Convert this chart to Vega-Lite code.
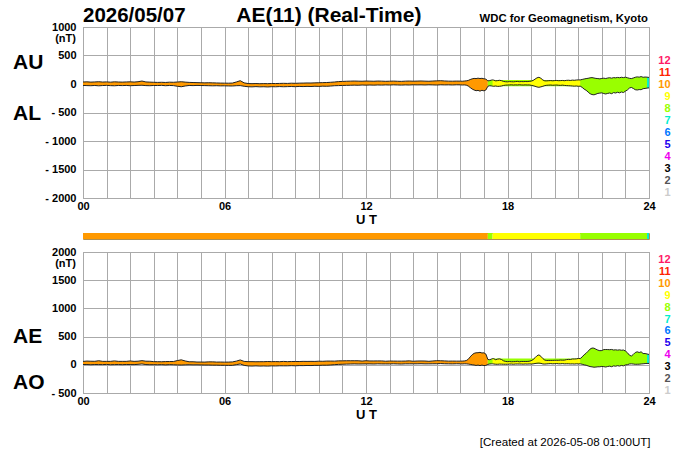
{
  "$schema": "https://vega.github.io/schema/vega-lite/v6.json",
  "background": "white",
  "padding": {"left": 12, "top": 4, "right": 0, "bottom": 0},
  "config": {
    "font": "Liberation Sans",
    "view": {"stroke": "#999999"},
    "axis": {"grid": true, "gridColor": "#aaaaaa", "gridWidth": 1, "ticks": false, "domain": false, "labelFontSize": 11, "labelFontWeight": "bold", "labelColor": "#000000", "titleFontSize": 13, "titleFontWeight": "bold", "titleColor": "#000000", "labelOverlap": false},
    "axisX": {"labelPadding": 2, "titlePadding": 2, "labelFlush": false},
    "axisY": {"labelPadding": 7}
  },
  "datasets": {
    "ae": [
      {"m":0,"au":35,"al":-25,"ae":60,"ao":5,"n":10},
      {"m":10,"au":38,"al":-28,"ae":66,"ao":5,"n":10},
      {"m":20,"au":33,"al":-30,"ae":63,"ao":1.5,"n":10},
      {"m":30,"au":36,"al":-26,"ae":62,"ao":5,"n":10},
      {"m":40,"au":40,"al":-32,"ae":72,"ao":4,"n":10},
      {"m":50,"au":34,"al":-27,"ae":61,"ao":3.5,"n":10},
      {"m":60,"au":37,"al":-24,"ae":61,"ao":6.5,"n":10},
      {"m":70,"au":32,"al":-29,"ae":61,"ao":1.5,"n":10},
      {"m":80,"au":38,"al":-31,"ae":69,"ao":3.5,"n":10},
      {"m":90,"au":35,"al":-26,"ae":61,"ao":4.5,"n":10},
      {"m":100,"au":33,"al":-28,"ae":61,"ao":2.5,"n":10},
      {"m":110,"au":36,"al":-25,"ae":61,"ao":5.5,"n":10},
      {"m":120,"au":38,"al":-30,"ae":68,"ao":4,"n":10},
      {"m":130,"au":34,"al":-27,"ae":61,"ao":3.5,"n":10},
      {"m":140,"au":40,"al":-24,"ae":64,"ao":8,"n":10},
      {"m":150,"au":52,"al":-22,"ae":74,"ao":15,"n":10},
      {"m":160,"au":36,"al":-28,"ae":64,"ao":4,"n":10},
      {"m":170,"au":33,"al":-30,"ae":63,"ao":1.5,"n":10},
      {"m":180,"au":30,"al":-26,"ae":56,"ao":2,"n":10},
      {"m":190,"au":28,"al":-27,"ae":55,"ao":0.5,"n":10},
      {"m":200,"au":30,"al":-24,"ae":54,"ao":3,"n":10},
      {"m":210,"au":27,"al":-30,"ae":57,"ao":-1.5,"n":10},
      {"m":220,"au":32,"al":-26,"ae":58,"ao":3,"n":10},
      {"m":230,"au":30,"al":-28,"ae":58,"ao":1,"n":10},
      {"m":240,"au":35,"al":-40,"ae":75,"ao":-2.5,"n":10},
      {"m":250,"au":40,"al":-48,"ae":88,"ao":-4,"n":10},
      {"m":260,"au":33,"al":-35,"ae":68,"ao":-1,"n":10},
      {"m":270,"au":28,"al":-26,"ae":54,"ao":1,"n":10},
      {"m":280,"au":26,"al":-28,"ae":54,"ao":-1,"n":10},
      {"m":290,"au":24,"al":-25,"ae":49,"ao":-0.5,"n":10},
      {"m":300,"au":22,"al":-27,"ae":49,"ao":-2.5,"n":10},
      {"m":310,"au":20,"al":-28,"ae":48,"ao":-4,"n":10},
      {"m":320,"au":22,"al":-30,"ae":52,"ao":-4,"n":10},
      {"m":330,"au":20,"al":-32,"ae":52,"ao":-6,"n":10},
      {"m":340,"au":18,"al":-30,"ae":48,"ao":-6,"n":10},
      {"m":350,"au":16,"al":-33,"ae":49,"ao":-8.5,"n":10},
      {"m":360,"au":15,"al":-32,"ae":47,"ao":-8.5,"n":10},
      {"m":370,"au":14,"al":-34,"ae":48,"ao":-10,"n":10},
      {"m":380,"au":16,"al":-35,"ae":51,"ao":-9.5,"n":10},
      {"m":390,"au":35,"al":-30,"ae":65,"ao":2.5,"n":10},
      {"m":400,"au":58,"al":-28,"ae":86,"ao":15,"n":10},
      {"m":410,"au":20,"al":-40,"ae":60,"ao":-10,"n":10},
      {"m":420,"au":8,"al":-48,"ae":56,"ao":-20,"n":10},
      {"m":430,"au":6,"al":-50,"ae":56,"ao":-22,"n":10},
      {"m":440,"au":8,"al":-46,"ae":54,"ao":-19,"n":10},
      {"m":450,"au":5,"al":-50,"ae":55,"ao":-22.5,"n":10},
      {"m":460,"au":7,"al":-48,"ae":55,"ao":-20.5,"n":10},
      {"m":470,"au":6,"al":-52,"ae":58,"ao":-23,"n":10},
      {"m":480,"au":9,"al":-47,"ae":56,"ao":-19,"n":10},
      {"m":490,"au":8,"al":-49,"ae":57,"ao":-20.5,"n":10},
      {"m":500,"au":10,"al":-45,"ae":55,"ao":-17.5,"n":10},
      {"m":510,"au":12,"al":-48,"ae":60,"ao":-18,"n":10},
      {"m":520,"au":10,"al":-46,"ae":56,"ao":-18,"n":10},
      {"m":530,"au":14,"al":-44,"ae":58,"ao":-15,"n":10},
      {"m":540,"au":12,"al":-47,"ae":59,"ao":-17.5,"n":10},
      {"m":550,"au":15,"al":-43,"ae":58,"ao":-14,"n":10},
      {"m":560,"au":16,"al":-45,"ae":61,"ao":-14.5,"n":10},
      {"m":570,"au":18,"al":-42,"ae":60,"ao":-12,"n":10},
      {"m":580,"au":17,"al":-44,"ae":61,"ao":-13.5,"n":10},
      {"m":590,"au":20,"al":-40,"ae":60,"ao":-10,"n":10},
      {"m":600,"au":22,"al":-42,"ae":64,"ao":-10,"n":10},
      {"m":610,"au":24,"al":-38,"ae":62,"ao":-7,"n":10},
      {"m":620,"au":26,"al":-40,"ae":66,"ao":-7,"n":10},
      {"m":630,"au":30,"al":-36,"ae":66,"ao":-3,"n":10},
      {"m":640,"au":35,"al":-30,"ae":65,"ao":2.5,"n":10},
      {"m":650,"au":42,"al":-28,"ae":70,"ao":7,"n":10},
      {"m":660,"au":45,"al":-25,"ae":70,"ao":10,"n":10},
      {"m":670,"au":48,"al":-24,"ae":72,"ao":12,"n":10},
      {"m":680,"au":50,"al":-22,"ae":72,"ao":14,"n":10},
      {"m":690,"au":52,"al":-20,"ae":72,"ao":16,"n":10},
      {"m":700,"au":50,"al":-22,"ae":72,"ao":14,"n":10},
      {"m":710,"au":48,"al":-18,"ae":66,"ao":15,"n":10},
      {"m":720,"au":52,"al":-20,"ae":72,"ao":16,"n":10},
      {"m":730,"au":50,"al":-18,"ae":68,"ao":16,"n":10},
      {"m":740,"au":48,"al":-20,"ae":68,"ao":14,"n":10},
      {"m":750,"au":52,"al":-17,"ae":69,"ao":17.5,"n":10},
      {"m":760,"au":50,"al":-19,"ae":69,"ao":15.5,"n":10},
      {"m":770,"au":47,"al":-16,"ae":63,"ao":15.5,"n":10},
      {"m":780,"au":49,"al":-18,"ae":67,"ao":15.5,"n":10},
      {"m":790,"au":51,"al":-15,"ae":66,"ao":18,"n":10},
      {"m":800,"au":48,"al":-17,"ae":65,"ao":15.5,"n":10},
      {"m":810,"au":46,"al":-19,"ae":65,"ao":13.5,"n":10},
      {"m":820,"au":50,"al":-16,"ae":66,"ao":17,"n":10},
      {"m":830,"au":52,"al":-18,"ae":70,"ao":17,"n":10},
      {"m":840,"au":49,"al":-14,"ae":63,"ao":17.5,"n":10},
      {"m":850,"au":51,"al":-16,"ae":67,"ao":17.5,"n":10},
      {"m":860,"au":53,"al":-15,"ae":68,"ao":19,"n":10},
      {"m":870,"au":50,"al":-17,"ae":67,"ao":16.5,"n":10},
      {"m":880,"au":48,"al":-14,"ae":62,"ao":17,"n":10},
      {"m":890,"au":52,"al":-16,"ae":68,"ao":18,"n":10},
      {"m":900,"au":55,"al":-18,"ae":73,"ao":18.5,"n":10},
      {"m":910,"au":58,"al":-14,"ae":72,"ao":22,"n":10},
      {"m":920,"au":53,"al":-16,"ae":69,"ao":18.5,"n":10},
      {"m":930,"au":50,"al":-15,"ae":65,"ao":17.5,"n":10},
      {"m":940,"au":49,"al":-17,"ae":66,"ao":16,"n":10},
      {"m":950,"au":51,"al":-14,"ae":65,"ao":18.5,"n":10},
      {"m":960,"au":50,"al":-15,"ae":65,"ao":17.5,"n":10},
      {"m":965,"au":48,"al":-18,"ae":66,"ao":15,"n":10},
      {"m":970,"au":52,"al":-16,"ae":68,"ao":18,"n":10},
      {"m":975,"au":55,"al":-20,"ae":75,"ao":17.5,"n":10},
      {"m":980,"au":62,"al":-35,"ae":97,"ao":13.5,"n":10},
      {"m":985,"au":78,"al":-62,"ae":140,"ao":8,"n":10},
      {"m":990,"au":90,"al":-88,"ae":178,"ao":1,"n":10},
      {"m":995,"au":98,"al":-105,"ae":203,"ao":-3.5,"n":10},
      {"m":1000,"au":95,"al":-118,"ae":213,"ao":-11.5,"n":10},
      {"m":1005,"au":102,"al":-112,"ae":214,"ao":-5,"n":10},
      {"m":1010,"au":96,"al":-125,"ae":221,"ao":-14.5,"n":10},
      {"m":1015,"au":100,"al":-110,"ae":210,"ao":-5,"n":10},
      {"m":1020,"au":92,"al":-120,"ae":212,"ao":-14,"n":10},
      {"m":1025,"au":85,"al":-105,"ae":190,"ao":-10,"n":10},
      {"m":1030,"au":55,"al":-40,"ae":95,"ao":7.5,"n":10},
      {"m":1030,"au":55,"al":-40,"ae":95,"ao":7.5,"n":8},
      {"m":1035,"au":60,"al":-30,"ae":90,"ao":15,"n":8},
      {"m":1040,"au":70,"al":-35,"ae":105,"ao":17.5,"n":8},
      {"m":1042,"au":72,"al":-38,"ae":110,"ao":17,"n":8},
      {"m":1042,"au":72,"al":-38,"ae":110,"ao":17,"n":9},
      {"m":1045,"au":68,"al":-40,"ae":108,"ao":14,"n":9},
      {"m":1050,"au":55,"al":-35,"ae":90,"ao":10,"n":9},
      {"m":1055,"au":60,"al":-42,"ae":102,"ao":9,"n":9},
      {"m":1060,"au":65,"al":-40,"ae":105,"ao":12.5,"n":9},
      {"m":1065,"au":58,"al":-35,"ae":93,"ao":11.5,"n":9},
      {"m":1070,"au":45,"al":-25,"ae":70,"ao":10,"n":9},
      {"m":1075,"au":40,"al":-20,"ae":60,"ao":10,"n":9},
      {"m":1080,"au":38,"al":-18,"ae":56,"ao":10,"n":9},
      {"m":1085,"au":42,"al":-16,"ae":58,"ao":13,"n":9},
      {"m":1090,"au":40,"al":-14,"ae":54,"ao":13,"n":9},
      {"m":1095,"au":38,"al":-18,"ae":56,"ao":10,"n":9},
      {"m":1100,"au":42,"al":-15,"ae":57,"ao":13.5,"n":9},
      {"m":1105,"au":45,"al":-17,"ae":62,"ao":14,"n":9},
      {"m":1110,"au":40,"al":-13,"ae":53,"ao":13.5,"n":9},
      {"m":1115,"au":43,"al":-16,"ae":59,"ao":13.5,"n":9},
      {"m":1120,"au":41,"al":-18,"ae":59,"ao":11.5,"n":9},
      {"m":1125,"au":44,"al":-15,"ae":59,"ao":14.5,"n":9},
      {"m":1130,"au":42,"al":-17,"ae":59,"ao":12.5,"n":9},
      {"m":1135,"au":46,"al":-16,"ae":62,"ao":15,"n":9},
      {"m":1140,"au":50,"al":-22,"ae":72,"ao":14,"n":9},
      {"m":1145,"au":62,"al":-30,"ae":92,"ao":16,"n":9},
      {"m":1150,"au":85,"al":-40,"ae":125,"ao":22.5,"n":9},
      {"m":1155,"au":108,"al":-52,"ae":160,"ao":28,"n":9},
      {"m":1160,"au":118,"al":-58,"ae":176,"ao":30,"n":9},
      {"m":1165,"au":100,"al":-50,"ae":150,"ao":25,"n":9},
      {"m":1170,"au":70,"al":-40,"ae":110,"ao":15,"n":9},
      {"m":1175,"au":55,"al":-28,"ae":83,"ao":13.5,"n":9},
      {"m":1180,"au":55,"al":-22,"ae":77,"ao":16.5,"n":9},
      {"m":1185,"au":58,"al":-20,"ae":78,"ao":19,"n":9},
      {"m":1190,"au":60,"al":-18,"ae":78,"ao":21,"n":9},
      {"m":1195,"au":56,"al":-22,"ae":78,"ao":17,"n":9},
      {"m":1200,"au":60,"al":-20,"ae":80,"ao":20,"n":9},
      {"m":1205,"au":62,"al":-18,"ae":80,"ao":22,"n":9},
      {"m":1210,"au":58,"al":-22,"ae":80,"ao":18,"n":9},
      {"m":1215,"au":60,"al":-24,"ae":84,"ao":18,"n":9},
      {"m":1220,"au":62,"al":-20,"ae":82,"ao":21,"n":9},
      {"m":1225,"au":58,"al":-25,"ae":83,"ao":16.5,"n":9},
      {"m":1230,"au":64,"al":-28,"ae":92,"ao":18,"n":9},
      {"m":1235,"au":66,"al":-30,"ae":96,"ao":18,"n":9},
      {"m":1240,"au":62,"al":-32,"ae":94,"ao":15,"n":9},
      {"m":1245,"au":68,"al":-35,"ae":103,"ao":16.5,"n":9},
      {"m":1250,"au":65,"al":-38,"ae":103,"ao":13.5,"n":9},
      {"m":1255,"au":70,"al":-35,"ae":105,"ao":17.5,"n":9},
      {"m":1260,"au":72,"al":-40,"ae":112,"ao":16,"n":9},
      {"m":1265,"au":72,"al":-38,"ae":110,"ao":17,"n":9},
      {"m":1265,"au":72,"al":-38,"ae":110,"ao":17,"n":8},
      {"m":1270,"au":80,"al":-60,"ae":140,"ao":10,"n":8},
      {"m":1275,"au":88,"al":-90,"ae":178,"ao":-1,"n":8},
      {"m":1280,"au":95,"al":-110,"ae":205,"ao":-7.5,"n":8},
      {"m":1285,"au":100,"al":-140,"ae":240,"ao":-20,"n":8},
      {"m":1290,"au":108,"al":-170,"ae":278,"ao":-31,"n":8},
      {"m":1295,"au":112,"al":-185,"ae":297,"ao":-36.5,"n":8},
      {"m":1300,"au":105,"al":-190,"ae":295,"ao":-42.5,"n":8},
      {"m":1305,"au":98,"al":-178,"ae":276,"ao":-40,"n":8},
      {"m":1310,"au":95,"al":-165,"ae":260,"ao":-35,"n":8},
      {"m":1315,"au":90,"al":-160,"ae":250,"ao":-35,"n":8},
      {"m":1320,"au":98,"al":-155,"ae":253,"ao":-28.5,"n":8},
      {"m":1325,"au":102,"al":-168,"ae":270,"ao":-33,"n":8},
      {"m":1330,"au":96,"al":-175,"ae":271,"ao":-39.5,"n":8},
      {"m":1335,"au":105,"al":-165,"ae":270,"ao":-30,"n":8},
      {"m":1340,"au":110,"al":-158,"ae":268,"ao":-24,"n":8},
      {"m":1345,"au":102,"al":-170,"ae":272,"ao":-34,"n":8},
      {"m":1350,"au":112,"al":-150,"ae":262,"ao":-19,"n":8},
      {"m":1355,"au":108,"al":-158,"ae":266,"ao":-25,"n":8},
      {"m":1360,"au":115,"al":-145,"ae":260,"ao":-15,"n":8},
      {"m":1365,"au":110,"al":-155,"ae":265,"ao":-22.5,"n":8},
      {"m":1370,"au":118,"al":-140,"ae":258,"ao":-11,"n":8},
      {"m":1375,"au":112,"al":-150,"ae":262,"ao":-19,"n":8},
      {"m":1380,"au":120,"al":-125,"ae":245,"ao":-2.5,"n":8},
      {"m":1385,"au":110,"al":-105,"ae":215,"ao":2.5,"n":8},
      {"m":1390,"au":100,"al":-72,"ae":172,"ao":14,"n":8},
      {"m":1395,"au":95,"al":-60,"ae":155,"ao":17.5,"n":8},
      {"m":1400,"au":105,"al":-78,"ae":183,"ao":13.5,"n":8},
      {"m":1405,"au":118,"al":-100,"ae":218,"ao":9,"n":8},
      {"m":1410,"au":125,"al":-105,"ae":230,"ao":10,"n":8},
      {"m":1415,"au":120,"al":-98,"ae":218,"ao":11,"n":8},
      {"m":1420,"au":130,"al":-100,"ae":230,"ao":15,"n":8},
      {"m":1425,"au":118,"al":-82,"ae":200,"ao":18,"n":8},
      {"m":1430,"au":122,"al":-78,"ae":200,"ao":22,"n":8},
      {"m":1435,"au":120,"al":-72,"ae":192,"ao":24,"n":8},
      {"m":1435,"au":120,"al":-72,"ae":192,"ao":24,"n":7},
      {"m":1440,"au":115,"al":-68,"ae":183,"ao":23.5,"n":7}
    ],
    "bar": [
      {"s":0,"e":1030,"n":10},
      {"s":1030,"e":1042,"n":8},
      {"s":1042,"e":1265,"n":9},
      {"s":1265,"e":1435,"n":8},
      {"s":1435,"e":1440,"n":7}
    ],
    "nums": [
      {"n":12},{"n":11},{"n":10},{"n":9},{"n":8},{"n":7},
      {"n":6},{"n":5},{"n":4},{"n":3},{"n":2},{"n":1}
    ]
  },
  "spacing": 5,
  "vconcat": [
    {
      "width": 566,
      "height": 171,
      "layer": [
        {
          "layer": [
            {
              "data": {"name": "ae"},
              "layer": [
                {
                  "mark": {"type": "area"},
                  "encoding": {
                    "x": {"field": "m", "type": "quantitative", "title": "U T", "scale": {"domain": [0, 1440], "nice": false, "zero": false},
                      "axis": {"values": [0,60,120,180,240,300,360,420,480,540,600,660,720,780,840,900,960,1020,1080,1140,1200,1260,1320,1380,1440], "labelOverlap": false, "labelExpr": "datum.value % 360 == 0 ? (datum.value < 600 ? '0' + datum.value / 60 : '' + datum.value / 60) : ''"}},
                    "y": {"field": "au", "type": "quantitative", "title": null, "stack": null, "scale": {"domain": [-2000, 1000], "nice": false, "zero": false},
                      "axis": {"values": [-2000,-1500,-1000,-500,0,500,1000], "labelOverlap": false, "labelExpr": "datum.value < 0 ? '- ' + (-datum.value) : '' + datum.value"}},
                    "y2": {"field": "al"},
                    "color": {"field": "n", "type": "ordinal", "legend": null,
                      "scale": {"domain": [1,2,3,4,5,6,7,8,9,10,11,12], "range": ["#cccccc","#555555","#000000","#ee00ee","#2200ee","#0077ff","#00eecc","#99ff00","#ffff00","#ff9900","#ff2200","#ff1a66"]}}
                  }
                },
                {
                  "mark": {"type": "line", "color": "#222222", "strokeWidth": 1},
                  "encoding": {
                    "x": {"field": "m", "type": "quantitative", "title": "U T",
                      "axis": {"values": [0,60,120,180,240,300,360,420,480,540,600,660,720,780,840,900,960,1020,1080,1140,1200,1260,1320,1380,1440], "labelOverlap": false, "labelExpr": "datum.value % 360 == 0 ? (datum.value < 600 ? '0' + datum.value / 60 : '' + datum.value / 60) : ''"}},
                    "y": {"field": "au", "type": "quantitative", "title": null,
                      "axis": {"values": [-2000,-1500,-1000,-500,0,500,1000], "labelOverlap": false, "labelExpr": "datum.value < 0 ? '- ' + (-datum.value) : '' + datum.value"}}
                  }
                },
                {
                  "mark": {"type": "line", "color": "#222222", "strokeWidth": 1},
                  "encoding": {
                    "x": {"field": "m", "type": "quantitative", "title": "U T",
                      "axis": {"values": [0,60,120,180,240,300,360,420,480,540,600,660,720,780,840,900,960,1020,1080,1140,1200,1260,1320,1380,1440], "labelOverlap": false, "labelExpr": "datum.value % 360 == 0 ? (datum.value < 600 ? '0' + datum.value / 60 : '' + datum.value / 60) : ''"}},
                    "y": {"field": "al", "type": "quantitative", "title": null,
                      "axis": {"values": [-2000,-1500,-1000,-500,0,500,1000], "labelOverlap": false, "labelExpr": "datum.value < 0 ? '- ' + (-datum.value) : '' + datum.value"}}
                  }
                }
              ]
            },
            {
              "data": {"values": [{}]},
              "mark": {"type": "text", "text": "2026/05/07", "align": "left", "baseline": "alphabetic", "fontSize": 20.5, "fontWeight": "bold"},
              "encoding": {
                "x": {"datum": 0, "type": "quantitative", "title": "U T",
                  "axis": {"values": [0,60,120,180,240,300,360,420,480,540,600,660,720,780,840,900,960,1020,1080,1140,1200,1260,1320,1380,1440], "labelOverlap": false, "labelExpr": "datum.value % 360 == 0 ? (datum.value < 600 ? '0' + datum.value / 60 : '' + datum.value / 60) : ''"}},
                "y": {"datum": 1088, "type": "quantitative", "title": null,
                  "axis": {"values": [-2000,-1500,-1000,-500,0,500,1000], "labelOverlap": false, "labelExpr": "datum.value < 0 ? '- ' + (-datum.value) : '' + datum.value"}}
              }
            },
            {
              "data": {"values": [{}]},
              "mark": {"type": "text", "text": "AE(11) (Real-Time)", "align": "left", "baseline": "alphabetic", "fontSize": 21, "fontWeight": "bold"},
              "encoding": {
                "x": {"datum": 390, "type": "quantitative", "title": "U T",
                  "axis": {"values": [0,60,120,180,240,300,360,420,480,540,600,660,720,780,840,900,960,1020,1080,1140,1200,1260,1320,1380,1440], "labelOverlap": false, "labelExpr": "datum.value % 360 == 0 ? (datum.value < 600 ? '0' + datum.value / 60 : '' + datum.value / 60) : ''"}},
                "y": {"datum": 1088, "type": "quantitative", "title": null,
                  "axis": {"values": [-2000,-1500,-1000,-500,0,500,1000], "labelOverlap": false, "labelExpr": "datum.value < 0 ? '- ' + (-datum.value) : '' + datum.value"}}
              }
            },
            {
              "data": {"values": [{}]},
              "mark": {"type": "text", "text": "WDC for Geomagnetism, Kyoto", "align": "right", "baseline": "alphabetic", "fontSize": 11.3, "fontWeight": "bold"},
              "encoding": {
                "x": {"datum": 1437, "type": "quantitative", "title": "U T",
                  "axis": {"values": [0,60,120,180,240,300,360,420,480,540,600,660,720,780,840,900,960,1020,1080,1140,1200,1260,1320,1380,1440], "labelOverlap": false, "labelExpr": "datum.value % 360 == 0 ? (datum.value < 600 ? '0' + datum.value / 60 : '' + datum.value / 60) : ''"}},
                "y": {"datum": 1082, "type": "quantitative", "title": null,
                  "axis": {"values": [-2000,-1500,-1000,-500,0,500,1000], "labelOverlap": false, "labelExpr": "datum.value < 0 ? '- ' + (-datum.value) : '' + datum.value"}}
              }
            },
            {
              "data": {"values": [{}]},
              "mark": {"type": "text", "text": "(nT)", "align": "right", "baseline": "middle", "fontSize": 11, "fontWeight": "bold"},
              "encoding": {
                "x": {"datum": -18, "type": "quantitative", "title": "U T",
                  "axis": {"values": [0,60,120,180,240,300,360,420,480,540,600,660,720,780,840,900,960,1020,1080,1140,1200,1260,1320,1380,1440], "labelOverlap": false, "labelExpr": "datum.value % 360 == 0 ? (datum.value < 600 ? '0' + datum.value / 60 : '' + datum.value / 60) : ''"}},
                "y": {"datum": 798, "type": "quantitative", "title": null,
                  "axis": {"values": [-2000,-1500,-1000,-500,0,500,1000], "labelOverlap": false, "labelExpr": "datum.value < 0 ? '- ' + (-datum.value) : '' + datum.value"}}
              }
            },
            {
              "data": {"values": [{}]},
              "mark": {"type": "text", "text": "AU", "align": "left", "baseline": "middle", "fontSize": 21, "fontWeight": "bold"},
              "encoding": {
                "x": {"datum": -178, "type": "quantitative", "title": "U T",
                  "axis": {"values": [0,60,120,180,240,300,360,420,480,540,600,660,720,780,840,900,960,1020,1080,1140,1200,1260,1320,1380,1440], "labelOverlap": false, "labelExpr": "datum.value % 360 == 0 ? (datum.value < 600 ? '0' + datum.value / 60 : '' + datum.value / 60) : ''"}},
                "y": {"datum": 377, "type": "quantitative", "title": null,
                  "axis": {"values": [-2000,-1500,-1000,-500,0,500,1000], "labelOverlap": false, "labelExpr": "datum.value < 0 ? '- ' + (-datum.value) : '' + datum.value"}}
              }
            },
            {
              "data": {"values": [{}]},
              "mark": {"type": "text", "text": "AL", "align": "left", "baseline": "middle", "fontSize": 21, "fontWeight": "bold"},
              "encoding": {
                "x": {"datum": -178, "type": "quantitative", "title": "U T",
                  "axis": {"values": [0,60,120,180,240,300,360,420,480,540,600,660,720,780,840,900,960,1020,1080,1140,1200,1260,1320,1380,1440], "labelOverlap": false, "labelExpr": "datum.value % 360 == 0 ? (datum.value < 600 ? '0' + datum.value / 60 : '' + datum.value / 60) : ''"}},
                "y": {"datum": -521, "type": "quantitative", "title": null,
                  "axis": {"values": [-2000,-1500,-1000,-500,0,500,1000], "labelOverlap": false, "labelExpr": "datum.value < 0 ? '- ' + (-datum.value) : '' + datum.value"}}
              }
            }
          ]
        },
        {
          "data": {"name": "nums"},
          "mark": {"type": "text", "align": "right", "baseline": "middle", "fontSize": 11, "fontWeight": "bold"},
          "encoding": {
            "x": {"datum": 1495, "type": "quantitative", "title": "U T",
              "axis": {"values": [0,60,120,180,240,300,360,420,480,540,600,660,720,780,840,900,960,1020,1080,1140,1200,1260,1320,1380,1440], "labelOverlap": false, "labelExpr": "datum.value % 360 == 0 ? (datum.value < 600 ? '0' + datum.value / 60 : '' + datum.value / 60) : ''"}},
            "y": {"field": "n", "type": "quantitative", "scale": {"domain": [0.61, 14.83], "nice": false, "zero": false}, "axis": null},
            "text": {"field": "n"},
            "color": {"field": "n", "type": "ordinal", "legend": null,
              "scale": {"domain": [1,2,3,4,5,6,7,8,9,10,11,12], "range": ["#cccccc","#555555","#000000","#ee00ee","#2200ee","#0077ff","#00eecc","#99ff00","#ffff00","#ff9900","#ff2200","#ff1a66"]}}
          }
        }
      ],
      "resolve": {"scale": {"y": "independent"}, "axis": {"y": "independent"}}
    },
    {
      "width": 566,
      "height": 6,
      "view": {"stroke": "#b09050"},
      "data": {"name": "bar"},
      "mark": {"type": "rect"},
      "encoding": {
        "x": {"field": "s", "type": "quantitative", "scale": {"domain": [0, 1440], "nice": false, "zero": false}, "axis": null},
        "x2": {"field": "e"},
        "color": {"field": "n", "type": "ordinal", "legend": null,
          "scale": {"domain": [1,2,3,4,5,6,7,8,9,10,11,12], "range": ["#cccccc","#555555","#000000","#ee00ee","#2200ee","#0077ff","#00eecc","#99ff00","#ffff00","#ff9900","#ff2200","#ff1a66"]}}
      }
    },
    {
      "width": 566,
      "height": 141,
      "layer": [
        {
          "layer": [
            {
              "data": {"name": "ae"},
              "layer": [
                {
                  "mark": {"type": "area"},
                  "encoding": {
                    "x": {"field": "m", "type": "quantitative", "title": "U T", "scale": {"domain": [0, 1440], "nice": false, "zero": false},
                      "axis": {"values": [0,60,120,180,240,300,360,420,480,540,600,660,720,780,840,900,960,1020,1080,1140,1200,1260,1320,1380,1440], "labelOverlap": false, "labelExpr": "datum.value % 360 == 0 ? (datum.value < 600 ? '0' + datum.value / 60 : '' + datum.value / 60) : ''"}},
                    "y": {"field": "ae", "type": "quantitative", "title": null, "stack": null, "scale": {"domain": [-500, 2000], "nice": false, "zero": false},
                      "axis": {"values": [-500,0,500,1000,1500,2000], "labelOverlap": false, "labelExpr": "datum.value < 0 ? '- ' + (-datum.value) : '' + datum.value"}},
                    "y2": {"field": "ao"},
                    "color": {"field": "n", "type": "ordinal", "legend": null,
                      "scale": {"domain": [1,2,3,4,5,6,7,8,9,10,11,12], "range": ["#cccccc","#555555","#000000","#ee00ee","#2200ee","#0077ff","#00eecc","#99ff00","#ffff00","#ff9900","#ff2200","#ff1a66"]}}
                  }
                },
                {
                  "mark": {"type": "line", "color": "#222222", "strokeWidth": 1},
                  "encoding": {
                    "x": {"field": "m", "type": "quantitative", "title": "U T",
                      "axis": {"values": [0,60,120,180,240,300,360,420,480,540,600,660,720,780,840,900,960,1020,1080,1140,1200,1260,1320,1380,1440], "labelOverlap": false, "labelExpr": "datum.value % 360 == 0 ? (datum.value < 600 ? '0' + datum.value / 60 : '' + datum.value / 60) : ''"}},
                    "y": {"field": "ae", "type": "quantitative", "title": null,
                      "axis": {"values": [-500,0,500,1000,1500,2000], "labelOverlap": false, "labelExpr": "datum.value < 0 ? '- ' + (-datum.value) : '' + datum.value"}}
                  }
                },
                {
                  "mark": {"type": "line", "color": "#222222", "strokeWidth": 1},
                  "encoding": {
                    "x": {"field": "m", "type": "quantitative", "title": "U T",
                      "axis": {"values": [0,60,120,180,240,300,360,420,480,540,600,660,720,780,840,900,960,1020,1080,1140,1200,1260,1320,1380,1440], "labelOverlap": false, "labelExpr": "datum.value % 360 == 0 ? (datum.value < 600 ? '0' + datum.value / 60 : '' + datum.value / 60) : ''"}},
                    "y": {"field": "ao", "type": "quantitative", "title": null,
                      "axis": {"values": [-500,0,500,1000,1500,2000], "labelOverlap": false, "labelExpr": "datum.value < 0 ? '- ' + (-datum.value) : '' + datum.value"}}
                  }
                }
              ]
            },
            {
              "data": {"values": [{}]},
              "mark": {"type": "text", "text": "(nT)", "align": "right", "baseline": "middle", "fontSize": 11, "fontWeight": "bold"},
              "encoding": {
                "x": {"datum": -18, "type": "quantitative", "title": "U T",
                  "axis": {"values": [0,60,120,180,240,300,360,420,480,540,600,660,720,780,840,900,960,1020,1080,1140,1200,1260,1320,1380,1440], "labelOverlap": false, "labelExpr": "datum.value % 360 == 0 ? (datum.value < 600 ? '0' + datum.value / 60 : '' + datum.value / 60) : ''"}},
                "y": {"datum": 1796, "type": "quantitative", "title": null,
                  "axis": {"values": [-500,0,500,1000,1500,2000], "labelOverlap": false, "labelExpr": "datum.value < 0 ? '- ' + (-datum.value) : '' + datum.value"}}
              }
            },
            {
              "data": {"values": [{}]},
              "mark": {"type": "text", "text": "AE", "align": "left", "baseline": "middle", "fontSize": 21, "fontWeight": "bold"},
              "encoding": {
                "x": {"datum": -178, "type": "quantitative", "title": "U T",
                  "axis": {"values": [0,60,120,180,240,300,360,420,480,540,600,660,720,780,840,900,960,1020,1080,1140,1200,1260,1320,1380,1440], "labelOverlap": false, "labelExpr": "datum.value % 360 == 0 ? (datum.value < 600 ? '0' + datum.value / 60 : '' + datum.value / 60) : ''"}},
                "y": {"datum": 493, "type": "quantitative", "title": null,
                  "axis": {"values": [-500,0,500,1000,1500,2000], "labelOverlap": false, "labelExpr": "datum.value < 0 ? '- ' + (-datum.value) : '' + datum.value"}}
              }
            },
            {
              "data": {"values": [{}]},
              "mark": {"type": "text", "text": "AO", "align": "left", "baseline": "middle", "fontSize": 21, "fontWeight": "bold"},
              "encoding": {
                "x": {"datum": -178, "type": "quantitative", "title": "U T",
                  "axis": {"values": [0,60,120,180,240,300,360,420,480,540,600,660,720,780,840,900,960,1020,1080,1140,1200,1260,1320,1380,1440], "labelOverlap": false, "labelExpr": "datum.value % 360 == 0 ? (datum.value < 600 ? '0' + datum.value / 60 : '' + datum.value / 60) : ''"}},
                "y": {"datum": -317, "type": "quantitative", "title": null,
                  "axis": {"values": [-500,0,500,1000,1500,2000], "labelOverlap": false, "labelExpr": "datum.value < 0 ? '- ' + (-datum.value) : '' + datum.value"}}
              }
            },
            {
              "data": {"values": [{}]},
              "mark": {"type": "text", "text": "[Created at 2026-05-08 01:00UT]", "align": "right", "baseline": "middle", "fontSize": 11.6},
              "encoding": {
                "x": {"datum": 1444, "type": "quantitative", "title": "U T",
                  "axis": {"values": [0,60,120,180,240,300,360,420,480,540,600,660,720,780,840,900,960,1020,1080,1140,1200,1260,1320,1380,1440], "labelOverlap": false, "labelExpr": "datum.value % 360 == 0 ? (datum.value < 600 ? '0' + datum.value / 60 : '' + datum.value / 60) : ''"}},
                "y": {"datum": -1387, "type": "quantitative", "title": null,
                  "axis": {"values": [-500,0,500,1000,1500,2000], "labelOverlap": false, "labelExpr": "datum.value < 0 ? '- ' + (-datum.value) : '' + datum.value"}}
              }
            }
          ]
        },
        {
          "data": {"name": "nums"},
          "mark": {"type": "text", "align": "right", "baseline": "middle", "fontSize": 11, "fontWeight": "bold"},
          "encoding": {
            "x": {"datum": 1495, "type": "quantitative", "title": "U T",
              "axis": {"values": [0,60,120,180,240,300,360,420,480,540,600,660,720,780,840,900,960,1020,1080,1140,1200,1260,1320,1380,1440], "labelOverlap": false, "labelExpr": "datum.value % 360 == 0 ? (datum.value < 600 ? '0' + datum.value / 60 : '' + datum.value / 60) : ''"}},
            "y": {"field": "n", "type": "quantitative", "scale": {"domain": [0.83, 12.67], "nice": false, "zero": false}, "axis": null},
            "text": {"field": "n"},
            "color": {"field": "n", "type": "ordinal", "legend": null,
              "scale": {"domain": [1,2,3,4,5,6,7,8,9,10,11,12], "range": ["#cccccc","#555555","#000000","#ee00ee","#2200ee","#0077ff","#00eecc","#99ff00","#ffff00","#ff9900","#ff2200","#ff1a66"]}}
          }
        }
      ],
      "resolve": {"scale": {"y": "independent"}, "axis": {"y": "independent"}}
    }
  ]
}
